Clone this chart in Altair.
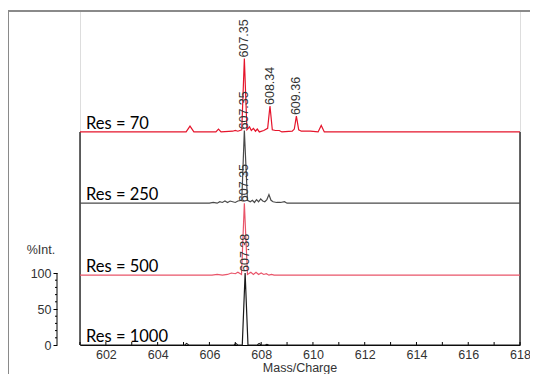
import altair as alt
import pandas as pd

# ---- data ----
series_names = ["Res = 70", "Res = 250", "Res = 500", "Res = 1000"]
series_offsets = [296, 197, 97, 0]
series_colors = ["#e5142b", "#4a4a4a", "#e9556a", "#1a1a1a"]

x70 = [601, 605.1, 605.25, 605.4, 606.25, 606.35, 606.45, 606.9, 607.0, 607.1, 607.25, 607.35,
       607.45, 607.55, 607.62, 607.7, 607.78, 607.85, 607.93, 608.1, 608.25, 608.34, 608.43,
       608.55, 608.7, 608.8, 609.2, 609.28, 609.36, 609.45, 609.55, 609.9, 610.2, 610.32, 610.44, 618]
y70 = [0, 0, 8, 0, 0, 4, 0, 1, 2, 1, 3, 102, 3, 7, 2, 5, 1, 4, 0, 2, 5, 36, 3,
       2, 2, 0, 1, 4, 22, 3, 1, 1, 0, 9, 0, 0]

x250 = [601, 606.0, 606.15, 606.3, 606.4, 606.5, 606.6, 606.7, 606.8, 606.9, 607.0, 607.1, 607.25,
        607.35, 607.47, 607.58, 607.66, 607.74, 607.82, 607.9, 607.98, 608.06, 608.14, 608.22,
        608.3, 608.38, 608.46, 608.6, 608.75, 608.9, 609.0, 618]
y250 = [0, 0, 1, 0, 2, 1, 3, 1, 3, 2, 1, 3, 4,
        101, 4, 2, 4, 1, 5, 2, 6, 3, 2, 5,
        12, 4, 2, 1, 1, 2, 0, 0]

x500 = [601, 606.1, 606.3, 606.5, 606.7, 606.85, 607.0, 607.1, 607.24, 607.35, 607.47, 607.6,
        607.7, 607.8, 607.9, 608.0, 608.1, 608.2, 608.3, 608.4, 608.5, 618]
y500 = [0, 0, 1, 0, 1, 3, 2, 4, 1, 100, 1, 4, 1, 4, 1, 3, 1, 2, 0, 1, 0, 0]

x1000 = [601, 605.05, 605.12, 605.2, 606.95, 607.02, 607.1, 607.27, 607.38, 607.49, 607.85,
         607.92, 608.0, 608.15, 608.22, 608.3, 618]
y1000 = [0, 0, 2, 0, 0, 2, 0, 0, 100, 0, 0, 2, 0, 0, 1, 0, 0]

peak_x = [607.35, 608.34, 609.36, 607.35, 607.35, 607.38]
peak_text = ["607.35", "608.34", "609.36", "607.35", "607.35", "607.38"]
peak_series = ["Res = 70", "Res = 70", "Res = 70", "Res = 250", "Res = 500", "Res = 1000"]
peak_height = [102, 36, 22, 101, 100, 100]

x_domain = [601, 618]
x_label_ticks = [602, 604, 606, 608, 610, 612, 614, 616, 618]
x_all_ticks = list(range(601, 619))
y_major_ticks = [0, 50, 100]
y_minor_ticks = [10, 20, 30, 40, 60, 70, 80, 90]
y_domain = [0, 464]
x_title = "Mass/Charge"
y_title = "%Int."

# ---- tables ----
rows = []
for name, off, xs, ys in zip(series_names, series_offsets, [x70, x250, x500, x1000], [y70, y250, y500, y1000]):
    for i, (a, b) in enumerate(zip(xs, ys)):
        rows.append({"series": name, "order": i, "mz": a, "val": b + off})
spec = pd.DataFrame(rows)

off_map = dict(zip(series_names, series_offsets))
peaks = pd.DataFrame({
    "mz": peak_x,
    "text": peak_text,
    "val": [h + off_map[s] for h, s in zip(peak_height, peak_series)],
})
labels = pd.DataFrame({"name": series_names, "val": series_offsets})
frame = pd.DataFrame({"mz": x_domain, "top": [series_offsets[0]] * 2, "bot": [0, 0]})
xticks = pd.DataFrame({"mz": x_all_ticks})
yminor = pd.DataFrame({"v": y_minor_ticks})
one = pd.DataFrame({"a": [0]})

W, H = 440, 334
xs = alt.Scale(domain=x_domain, nice=False, zero=False)
ys = alt.Scale(domain=y_domain, nice=False, zero=False)
LF = "Liberation Sans"

lines = alt.Chart(spec).mark_line(strokeWidth=1.2, interpolate="linear").encode(
    x=alt.X("mz:Q", scale=xs, axis=alt.Axis(
        values=x_label_ticks, tickSize=0, domainColor="black", domainWidth=1.2,
        labelFont=LF, labelFontSize=12.5, labelColor="#333", labelPadding=3, labelFlush=False,
        title=None, grid=False, format="d")),
    y=alt.Y("val:Q", scale=ys, axis=alt.Axis(
        values=y_major_ticks, offset=23, domain=False, tickSize=4, tickColor="black",
        labelFont=LF, labelFontSize=12.5, labelColor="#333", labelPadding=2,
        title=None, grid=False)),
    color=alt.Color("series:N", scale=alt.Scale(domain=series_names, range=series_colors), legend=None),
    order="order:Q",
)

frame_rules = alt.Chart(frame).mark_rule(color="black", strokeWidth=1.2).encode(
    x="mz:Q", y="bot:Q", y2="top:Q")

xtick_rules = alt.Chart(xticks).mark_rule(color="black", strokeWidth=1).encode(
    x="mz:Q", y=alt.value(H), y2=alt.value(H - 3))

y_axis_line = alt.Chart(one).mark_rule(color="black", strokeWidth=1).encode(
    x=alt.value(-23), y=alt.datum(0), y2=alt.datum(100))

yminor_rules = alt.Chart(yminor).mark_rule(color="black", strokeWidth=1).encode(
    x=alt.value(-25), x2=alt.value(-23), y="v:Q")

peak_text_layer = alt.Chart(peaks).mark_text(
    angle=270, align="left", baseline="middle", font=LF, fontSize=12.5, color="#333", dx=1
).encode(x="mz:Q", y="val:Q", text="text:N")

res_text = alt.Chart(labels).mark_text(
    align="left", baseline="alphabetic", font="Lato", fontSize=16.5, color="black", dy=-3
).encode(x=alt.value(6), y="val:Q", text="name:N")

int_title = alt.Chart(one).mark_text(
    align="center", baseline="middle", font=LF, fontSize=12.5, color="#333"
).encode(x=alt.value(-39), y=alt.value(239), text=alt.value(y_title))

mz_title = alt.Chart(one).mark_text(
    align="center", baseline="middle", font=LF, fontSize=12.5, color="#333"
).encode(x=alt.value(W / 2), y=alt.value(H + 23), text=alt.value(x_title))

border_top = alt.Chart(one).mark_rule(color="#8a8a8a", strokeWidth=2).encode(
    x=alt.value(-72), x2=alt.value(450), y=alt.value(0))
border_left = alt.Chart(one).mark_rule(color="#8a8a8a", strokeWidth=2).encode(
    x=alt.value(-72), y=alt.value(0), y2=alt.value(371))

chart = alt.layer(
    border_top, border_left, frame_rules, xtick_rules, y_axis_line, yminor_rules,
    lines, peak_text_layer, res_text, int_title, mz_title
).properties(
    width=W, height=H,
    autosize=alt.AutoSizeParams(type="none"),
    padding={"left": 72, "top": 3, "right": 10, "bottom": 29},
).configure_view(stroke=None).configure(background="white")

chart.save("out.html", embed_options={"renderer": "svg", "actions": False})
